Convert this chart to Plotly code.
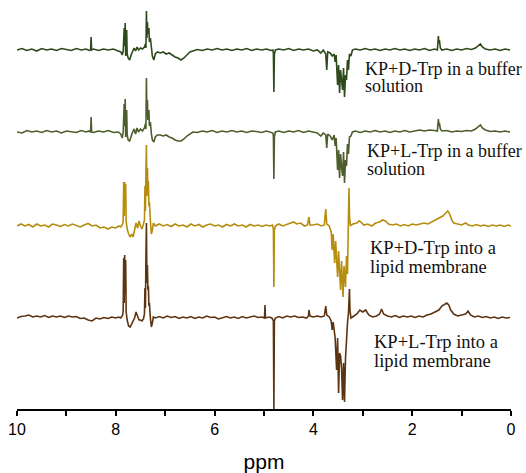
import plotly.graph_objects as go

# ppm, relative intensity pairs (stacked spectra)
D_TRP_BUFFER = [
    (10.00, 0), (9.90, 1.5), (9.80, -0.5), (9.70, 1), (9.60, -1), (9.50, 1.5), (9.40, 0), (9.30, 1),
    (9.20, -0.5), (9.10, 1.5), (9.00, 0.5), (8.90, -0.5), (8.80, 1.5), (8.70, 0), (8.60, 1), (8.54, -0.5),
    (8.51, 0), (8.50, 13), (8.49, 0), (8.45, 1), (8.35, -0.5), (8.25, 1), (8.15, 0), (8.05, 1), (7.95, -1),
    (7.90, -2), (7.87, -5), (7.85, -1), (7.83, 22), (7.82, 4), (7.81, 27), (7.80, -6), (7.78, 20), (7.77, -4),
    (7.75, -8), (7.72, -10), (7.69, -5), (7.66, -2), (7.63, 2), (7.60, -1), (7.57, 3), (7.54, 0), (7.50, 2),
    (7.46, 1), (7.42, 3), (7.40, 6), (7.39, 2), (7.38, 39), (7.37, 12), (7.36, 28), (7.35, 16), (7.33, 22),
    (7.32, 8), (7.30, 12), (7.28, 0), (7.26, -6), (7.23, -10), (7.20, -4), (7.16, -2), (7.10, -3), (7.04, -2),
    (6.98, -4), (6.92, -3), (6.86, -5), (6.80, -7), (6.74, -8), (6.68, -10), (6.62, -8), (6.56, -5), (6.50, -2),
    (6.44, -1), (6.35, 0.5), (6.25, -0.5), (6.15, 1), (6.05, 0), (5.95, 1.5), (5.85, 0), (5.75, 1), (5.65, -0.5),
    (5.55, 1), (5.45, 0), (5.35, 1.5), (5.25, -0.5), (5.15, 1), (5.05, 0), (4.95, 1), (4.86, -0.5), (4.82, 0),
    (4.81, -3), (4.80, -42), (4.79, -4), (4.77, 0), (4.70, 1), (4.60, 0), (4.50, 1.5), (4.40, -0.5), (4.30, 1),
    (4.20, 0), (4.10, 1), (4.00, -1), (3.92, 0), (3.85, -3), (3.80, 0), (3.75, -4), (3.73, -20), (3.71, -2),
    (3.66, -3), (3.62, -6), (3.58, -4), (3.56, -12), (3.54, -5), (3.51, -35), (3.49, -15), (3.47, -43),
    (3.45, -20), (3.43, -32), (3.41, -40), (3.39, -18), (3.37, -47), (3.35, -25), (3.33, -30), (3.31, -10),
    (3.29, -20), (3.27, -4), (3.24, -6), (3.21, 0), (3.15, 1), (3.05, 0), (2.95, 1.5), (2.85, 0), (2.75, 1),
    (2.65, -0.5), (2.55, 1), (2.45, 0), (2.35, 1.5), (2.25, 0), (2.15, 1), (2.05, -0.5), (1.95, 1), (1.85, 0),
    (1.75, 1.5), (1.65, -0.5), (1.55, 1), (1.49, 0), (1.47, 14), (1.46, 7), (1.45, 10), (1.43, 2), (1.40, 0),
    (1.30, 1), (1.20, -0.5), (1.10, 1), (1.00, 0), (0.90, 1.5), (0.80, 0.5), (0.72, 2), (0.66, 4), (0.62, 6),
    (0.58, 3), (0.52, 1), (0.42, 0), (0.32, 1), (0.22, -0.5), (0.12, 1), (0.02, 0),
]

L_TRP_BUFFER = [
    (10.00, 0), (9.90, -1), (9.80, 1.5), (9.70, 0), (9.60, 1), (9.50, -0.5), (9.40, 1.5), (9.30, 0), (9.20, 1),
    (9.10, -1), (9.00, 1), (8.90, 0.5), (8.80, -0.5), (8.70, 1.5), (8.60, 0), (8.54, 1), (8.51, 0), (8.50, 15),
    (8.49, 0), (8.45, -0.5), (8.35, 1), (8.25, 0), (8.15, 1.5), (8.05, -0.5), (7.95, 0), (7.90, -2), (7.87, -6),
    (7.85, 0), (7.83, 28), (7.82, 6), (7.81, 33), (7.80, -5), (7.78, 22), (7.77, -3), (7.75, -8), (7.72, -9),
    (7.69, -4), (7.66, 0), (7.63, 3), (7.60, -2), (7.57, 4), (7.54, 0), (7.50, 3), (7.46, 1), (7.42, 4),
    (7.40, 8), (7.39, 3), (7.38, 54), (7.37, 15), (7.36, 32), (7.35, 12), (7.33, 22), (7.32, 6), (7.30, 10),
    (7.28, -2), (7.26, -8), (7.23, -10), (7.20, -5), (7.16, -3), (7.10, -3), (7.04, -4), (6.98, -3), (6.92, -5),
    (6.86, -6), (6.80, -8), (6.74, -9), (6.68, -9), (6.62, -7), (6.56, -4), (6.50, -2), (6.44, 0), (6.35, -0.5),
    (6.25, 1), (6.15, 0), (6.05, 1.5), (5.95, -0.5), (5.85, 1), (5.75, 0), (5.65, 1.5), (5.55, 0), (5.45, 1),
    (5.35, -0.5), (5.25, 1), (5.15, 0.5), (5.05, -0.5), (4.95, 1), (4.86, 0), (4.82, -1), (4.81, -4),
    (4.80, -47), (4.79, -5), (4.77, 0), (4.70, 1), (4.60, -0.5), (4.50, 1), (4.40, 0), (4.30, 1.5), (4.20, -0.5),
    (4.10, 1), (4.00, 0), (3.92, -1), (3.85, -4), (3.80, -1), (3.75, -3), (3.73, -16), (3.71, -2), (3.66, -4),
    (3.62, -8), (3.58, -3), (3.56, -14), (3.54, -6), (3.51, -38), (3.49, -18), (3.47, -46), (3.45, -22),
    (3.43, -35), (3.41, -44), (3.39, -20), (3.37, -51), (3.35, -28), (3.33, -34), (3.31, -12), (3.29, -22),
    (3.27, -5), (3.24, -4), (3.21, 0), (3.15, 1), (3.05, -0.5), (2.95, 1), (2.85, 0), (2.75, 1.5), (2.65, 0),
    (2.55, 1), (2.45, -0.5), (2.35, 1), (2.25, 0), (2.15, 1.5), (2.05, 0), (1.95, 1), (1.85, 2), (1.75, 1),
    (1.65, 2), (1.55, 1.5), (1.49, 1), (1.47, 13), (1.46, 6), (1.45, 9), (1.43, 3), (1.40, 1), (1.30, 1.5),
    (1.20, 0), (1.10, 1), (1.00, 0.5), (0.90, 1.5), (0.80, 1), (0.72, 3), (0.66, 5), (0.62, 7), (0.58, 4),
    (0.52, 2), (0.42, 0.5), (0.32, 1), (0.22, 0), (0.12, 1), (0.02, 0),
]

D_TRP_LIPID = [
    (10.00, 0), (9.92, 2), (9.84, 0), (9.76, 1.5), (9.68, -1), (9.60, 2), (9.52, 0), (9.44, 1), (9.36, -1),
    (9.28, 2), (9.20, 1), (9.12, -0.5), (9.04, 1.5), (8.96, 0), (8.88, 2), (8.80, 0.5), (8.72, -1), (8.64, 1),
    (8.56, 2.5), (8.48, 0), (8.40, 1), (8.32, -2), (8.24, -1), (8.16, -3), (8.08, -1), (8.00, -2), (7.94, 0),
    (7.90, -1), (7.86, 2), (7.85, 6), (7.84, 44), (7.83, 10), (7.82, 44), (7.81, 20), (7.80, 42), (7.79, 5),
    (7.77, -3), (7.74, -8), (7.71, -11), (7.68, -8), (7.65, -11), (7.62, -4), (7.59, 3), (7.56, -2), (7.53, 5),
    (7.50, 0), (7.47, -3), (7.44, 2), (7.42, 6), (7.41, 40), (7.40, 15), (7.39, 55), (7.38, 81), (7.37, 30),
    (7.36, 58), (7.35, 36), (7.34, 45), (7.33, 20), (7.32, 24), (7.30, 5), (7.28, -8), (7.26, -4), (7.24, 3),
    (7.20, 0), (7.12, 2), (7.04, 0), (6.96, 1.5), (6.88, -0.5), (6.80, 2), (6.72, 0), (6.64, 1), (6.56, -1),
    (6.48, 2), (6.40, 0), (6.32, 1.5), (6.24, -1), (6.16, 1), (6.08, 2), (6.00, 0), (5.92, 1), (5.84, -1),
    (5.76, 1.5), (5.68, 0), (5.60, 2), (5.52, 0), (5.44, 1), (5.36, -1), (5.28, 1.5), (5.20, 0), (5.12, 1),
    (5.04, -0.5), (4.96, 1), (4.88, 0), (4.83, 1), (4.81, -3), (4.80, -61), (4.79, -4), (4.77, 0), (4.70, 2),
    (4.62, 0), (4.54, 1.5), (4.46, 3), (4.40, 4), (4.34, 2), (4.26, 3), (4.18, 0), (4.12, 1), (4.09, 9),
    (4.07, 1), (4.00, 1), (3.92, 2), (3.84, 0), (3.78, 1), (3.75, 17), (3.73, 2), (3.68, 0), (3.64, -6),
    (3.62, -24), (3.60, -8), (3.57, -37), (3.55, -15), (3.51, -51), (3.49, -25), (3.45, -64), (3.43, -35),
    (3.40, -71), (3.38, -40), (3.35, -61), (3.33, -30), (3.31, -48), (3.29, 5), (3.28, 38), (3.27, 10),
    (3.25, 0), (3.20, 2), (3.12, 3), (3.08, 5), (3.04, 4), (2.98, 1), (2.90, 2), (2.82, 0), (2.74, 3),
    (2.66, 4), (2.60, 6), (2.54, 5), (2.48, 2), (2.40, 1), (2.32, 2), (2.24, 0), (2.16, 1.5), (2.08, 0),
    (2.00, 2), (1.92, 1), (1.84, 2), (1.76, 3), (1.68, 2), (1.60, 4), (1.52, 6), (1.44, 8), (1.38, 10),
    (1.32, 13), (1.28, 15), (1.24, 12), (1.20, 6), (1.16, 3), (1.08, 2), (1.00, 1), (0.92, 3), (0.86, 1),
    (0.78, 0), (0.70, 1.5), (0.62, 0), (0.54, 1), (0.46, -0.5), (0.38, 1), (0.30, 0), (0.22, 1), (0.14, -0.5),
    (0.06, 1), (0.00, 0),
]

L_TRP_LIPID = [
    (10.00, 0), (9.92, 1.5), (9.84, 2), (9.76, 3), (9.68, 1), (9.60, 2), (9.52, 1), (9.44, 2.5), (9.36, 0.5),
    (9.28, 2), (9.20, 1), (9.12, 2), (9.04, 0.5), (8.96, 2), (8.88, 1), (8.80, 1.5), (8.72, -0.5), (8.64, 0),
    (8.56, -2), (8.48, -3), (8.40, 0), (8.32, -1), (8.24, 0.5), (8.16, -0.5), (8.08, 1), (8.00, 0), (7.94, 1),
    (7.90, 0), (7.86, 3), (7.85, 8), (7.84, 60), (7.83, 15), (7.82, 63), (7.81, 25), (7.80, 58), (7.79, 6),
    (7.77, -2), (7.74, -8), (7.71, -9), (7.68, -6), (7.65, -3), (7.62, 0), (7.59, 6), (7.56, 2), (7.53, -2),
    (7.50, -2), (7.47, -3), (7.44, -1), (7.42, 4), (7.41, 30), (7.40, 10), (7.39, 60), (7.38, 95), (7.37, 35),
    (7.36, 53), (7.35, 28), (7.34, 32), (7.33, 12), (7.32, 15), (7.30, 0), (7.28, -9), (7.26, -5), (7.24, 1),
    (7.20, 0), (7.12, 1.5), (7.04, 0), (6.96, 2), (6.88, 0.5), (6.80, 1.5), (6.72, -0.5), (6.64, 1), (6.56, 0),
    (6.48, 1.5), (6.40, -0.5), (6.32, 1), (6.24, 0), (6.16, 2), (6.08, 0.5), (6.00, 1), (5.92, -1), (5.84, 0),
    (5.76, 1.5), (5.68, 0), (5.60, 1), (5.52, -0.5), (5.44, 1.5), (5.36, 0), (5.28, 1), (5.20, 2), (5.12, 0.5),
    (5.04, 1), (4.99, 0), (4.98, 13), (4.97, 0), (4.90, 1), (4.84, 0), (4.81, -3), (4.80, -92), (4.79, -3),
    (4.77, 0), (4.70, 1.5), (4.62, 0), (4.54, 2), (4.46, 1), (4.38, 2), (4.30, 0.5), (4.22, 1), (4.14, 0),
    (4.10, 2), (4.09, 8), (4.07, 2), (4.00, 1), (3.92, 2), (3.84, 1), (3.78, 2), (3.75, 12), (3.73, 3),
    (3.68, 1), (3.64, -3), (3.62, -12), (3.60, -4), (3.56, -20), (3.53, -52), (3.51, -20), (3.49, -75),
    (3.47, -35), (3.45, -38), (3.43, -50), (3.41, -82), (3.39, -45), (3.37, -84), (3.35, -40), (3.33, -18),
    (3.31, -5), (3.29, 5), (3.27, 29), (3.26, 8), (3.24, 0), (3.18, 2), (3.12, 4), (3.06, 8), (3.00, 6),
    (2.94, 8), (2.88, 3), (2.80, 1), (2.72, 2), (2.66, 4), (2.62, 9), (2.58, 4), (2.50, 2), (2.42, 1),
    (2.34, 2.5), (2.26, 0.5), (2.18, 2), (2.10, 1), (2.02, 2), (1.94, 0.5), (1.86, 2), (1.78, 1), (1.70, 3),
    (1.62, 4), (1.54, 6), (1.46, 8), (1.40, 12), (1.34, 14), (1.30, 15), (1.26, 13), (1.22, 8), (1.16, 4),
    (1.08, 2), (1.00, 3), (0.92, 4), (0.87, 7), (0.82, 3), (0.74, 1), (0.66, 2), (0.58, 0.5), (0.50, 1.5),
    (0.42, 0), (0.34, 1), (0.26, -0.5), (0.18, 1), (0.10, 0), (0.02, 0.5),
]

SPECTRA = [D_TRP_BUFFER, L_TRP_BUFFER, D_TRP_LIPID, L_TRP_LIPID]
LABELS = [
    ["KP+D-Trp in a buffer", "solution"],
    ["KP+L-Trp in a buffer", "solution"],
    ["KP+D-Trp into a", "lipid membrane"],
    ["KP+L-Trp into a", "lipid membrane"],
]
TICKS = [10, 8, 6, 4, 2, 0]

# stacking / styling
offsets = [-50, -132, -226, -318]
colors = ["#2d4a1c", "#4d5e2c", "#b58d0e", "#5c3411"]
label_x = [3.00, 2.96, 2.89, 2.81]
label_y = [(-69, -86), (-151, -169), (-248, -267), (-342, -361)]
label_size = [18, 18, 18.5, 18.5]

fig = go.Figure()
for pts, off, col in zip(SPECTRA, offsets, colors):
    fig.add_trace(go.Scatter(
        x=[p[0] for p in pts],
        y=[off + p[1] for p in pts],
        mode="lines",
        line=dict(color=col, width=1.6),
        hoverinfo="skip",
    ))

for lines, lx, ly, fs in zip(LABELS, label_x, label_y, label_size):
    for txt, yy in zip(lines, ly):
        fig.add_annotation(
            x=lx, y=yy, text=txt, showarrow=False,
            xanchor="left", yanchor="middle",
            font=dict(family="Liberation Serif", size=fs, color="#111111"),
        )

fig.update_layout(
    width=526, height=473,
    margin=dict(l=17, r=15, t=0, b=64, autoexpand=False),
    paper_bgcolor="white", plot_bgcolor="white",
    showlegend=False,
    xaxis=dict(
        range=[10, 0],
        automargin=False,
        tickvals=TICKS,
        ticktext=[str(t) for t in TICKS],
        ticks="outside", ticklen=5, tickwidth=1.5, tickcolor="black",
        minor=dict(dtick=1, tick0=0, ticks="outside", ticklen=5, tickwidth=1.5, tickcolor="black"),
        showline=True, linewidth=2, linecolor="black",
        showgrid=False, zeroline=False,
        tickfont=dict(family="Liberation Sans", size=16, color="black"),
        title=dict(text="ppm", font=dict(family="Liberation Sans", size=21, color="black"), standoff=18),
    ),
    yaxis=dict(visible=False, range=[-409, 0]),
)

# drop the browser's default page margin so the figure sits at the window's corner
fig.write_html(
    "out.html",
    config={"displayModeBar": False},
    post_script="document.body.style.margin='0px';",
)
